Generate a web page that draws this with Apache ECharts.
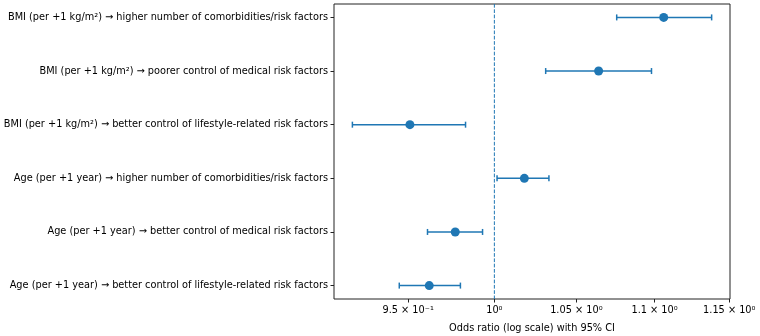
<!DOCTYPE html>
<html>
<head>
<meta charset="utf-8">
<script src="https://cdn.jsdelivr.net/npm/echarts@6/dist/echarts.min.js"></script>
<style>
  html, body { margin: 0; padding: 0; background: #fff; }
  #forest { width: 760px; height: 336px; }
</style>
</head>
<body>
<div id="forest"></div>
<script>
// rows listed top to bottom
var labels = [
    'BMI (per +1 kg/m\u00b2) \u2192 higher number of comorbidities/risk factors',
    'BMI (per +1 kg/m\u00b2) \u2192 poorer control of medical risk factors',
    'BMI (per +1 kg/m\u00b2) \u2192 better control of lifestyle-related risk factors',
    'Age (per +1 year) \u2192 higher number of comorbidities/risk factors',
    'Age (per +1 year) \u2192 better control of medical risk factors',
    'Age (per +1 year) \u2192 better control of lifestyle-related risk factors'
];
var oddsRatio = [1.106, 1.064, 0.951, 1.018, 0.977, 0.962];
var ciLow     = [1.0755, 1.031, 0.919, 1.0016, 0.961, 0.945];
var ciHigh    = [1.138, 1.098, 0.983, 1.033, 0.993, 0.980];
var refValue  = 1;

var tickValues = [0.95, 1, 1.05, 1.1, 1.15];
var tickLabels = ['9.5 \u00d7 10\u207b\u00b9', '10\u2070', '1.05 \u00d7 10\u2070', '1.1 \u00d7 10\u2070', '1.15 \u00d7 10\u2070'];
var rowTicks = [0, 1, 2, 3, 4, 5];

var blue = '#1f77b4';
var font = 'DejaVu Sans';

var points = oddsRatio.map(function (v, i) { return [v, i]; });
var bars = oddsRatio.map(function (v, i) { return [ciLow[i], ciHigh[i], i]; });

var myChart = echarts.init(document.getElementById('forest'));
var option = {
    animation: false,
    grid: {
        left: 334, right: 30, top: 4, bottom: 37,
        outerBoundsMode: 'none',
        containLabel: false,
        show: true, borderColor: '#222', borderWidth: 1
    },
    xAxis: {
        type: 'log',
        logBase: 10,
        min: 0.909,
        max: 1.1505,
        name: 'Odds ratio (log scale) with 95% CI',
        nameLocation: 'middle',
        nameGap: 24,
        nameTextStyle: { fontFamily: font, fontSize: 9.75, color: '#000' },
        axisLine: { show: false, onZero: false },
        splitLine: { show: false },
        minorTick: { show: false },
        axisTick: { show: true, length: 3.5, lineStyle: { color: '#222' }, customValues: tickValues },
        axisLabel: {
            fontFamily: font, fontSize: 9.75, color: '#000', margin: 6,
            customValues: tickValues,
            formatter: function (val) {
                var best = 0;
                for (var k = 1; k < tickValues.length; k++) {
                    if (Math.abs(tickValues[k] - val) < Math.abs(tickValues[best] - val)) best = k;
                }
                return tickLabels[best];
            }
        }
    },
    yAxis: {
        type: 'value',
        inverse: true,
        min: -0.25,
        max: 5.25,
        axisLine: { show: false, onZero: false },
        splitLine: { show: false },
        axisTick: { show: true, length: 3.5, lineStyle: { color: '#222' }, customValues: rowTicks },
        axisLabel: {
            fontFamily: font, fontSize: 9.75, color: '#000', margin: 6,
            customValues: rowTicks,
            formatter: function (val) { return labels[Math.round(val)] || ''; }
        }
    },
    series: [
        {
            // reference line at OR = 1
            type: 'line',
            data: [[refValue, -0.25], [refValue, 5.25]],
            showSymbol: false,
            silent: true,
            z: 1,
            lineStyle: { color: blue, type: [3.7, 1.6], width: 1 }
        },
        {
            type: 'custom',
            data: bars,
            z: 2,
            renderItem: function (params, api) {
                var lo = api.coord([api.value(0), api.value(2)]);
                var hi = api.coord([api.value(1), api.value(2)]);
                var cap = 3;
                var st = { stroke: blue, lineWidth: 1.5 };
                return {
                    type: 'group',
                    children: [
                        { type: 'line', shape: { x1: lo[0], y1: lo[1], x2: hi[0], y2: hi[1] }, style: st },
                        { type: 'line', shape: { x1: lo[0], y1: lo[1] - cap, x2: lo[0], y2: lo[1] + cap }, style: st },
                        { type: 'line', shape: { x1: hi[0], y1: hi[1] - cap, x2: hi[0], y2: hi[1] + cap }, style: st }
                    ]
                };
            }
        },
        {
            type: 'scatter',
            data: points,
            symbol: 'circle',
            symbolSize: 9,
            z: 3,
            itemStyle: { color: blue, opacity: 1 }
        }
    ]
};
myChart.setOption(option);
window.addEventListener('resize', function () {
    myChart.resize();
});
</script>
</body>
</html>
